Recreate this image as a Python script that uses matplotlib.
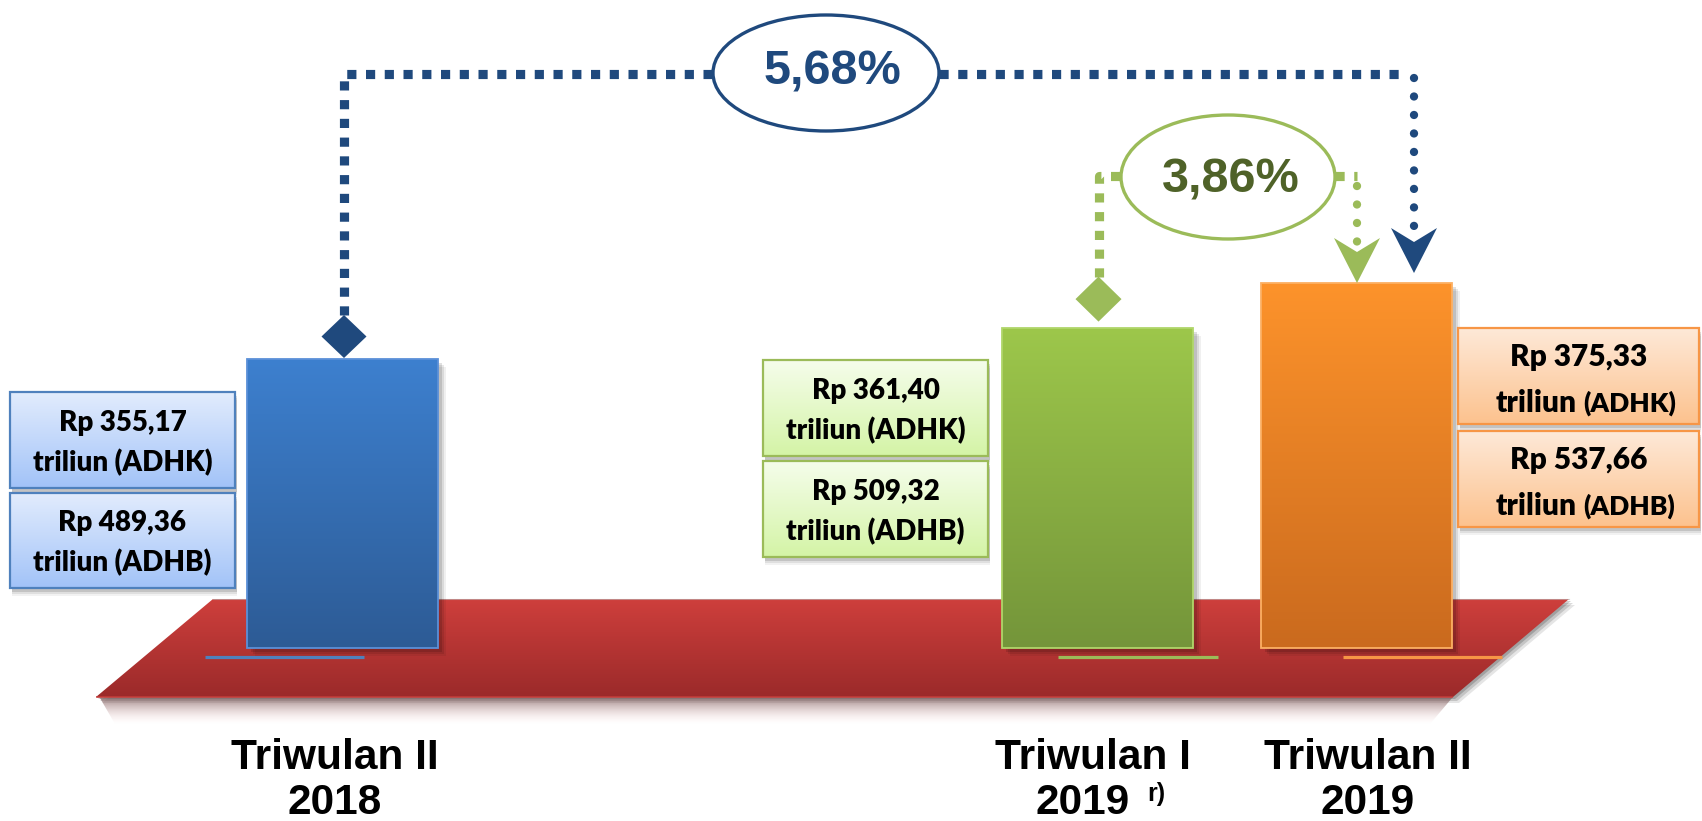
import numpy as np
import matplotlib
matplotlib.use("Agg")
import matplotlib.pyplot as plt
from matplotlib.patches import Polygon, Rectangle, Ellipse
from matplotlib.colors import to_rgba

# ---------------- data ----------------
cat_line1 = ["Triwulan II", "Triwulan I", "Triwulan II"]
cat_line2 = ["2018", "2019", "2019"]
cat_note = ["", "r)", ""]
adhk = [355.17, 361.40, 375.33]          # Rp triliun, constant prices
adhb = [489.36, 509.32, 537.66]          # Rp triliun, current prices (bar height)
growth_yoy = "5,68%"
growth_qtq = "3,86%"

# ---------------- layout / style ----------------
W, H = 1702, 821
BASE = 305.7            # value at the bar foot
SCALE = 1.5735          # px per unit
FOOT = 648              # pixel row of bar foot
bar_x = [342, 1097.5, 1356.5]
bar_w = 191
bar_top_c = ["#3d80cf", "#9dc74b", "#fd932b"]
bar_bot_c = ["#2d5b95", "#74953a", "#ca6a1e"]
bar_edge = ["#5b90d8", "#b0d66a", "#fcb063"]
line_c = ["#4f81bd", "#9bbb59", "#f79646"]
box_top_c = ["#e2ecfd", "#f5fdeb", "#fee9d8"]
box_bot_c = ["#a2c3f8", "#d4f4a6", "#fcc28e"]
box_edge = ["#4f81bd", "#9bbb59", "#f79646"]
box_x = [(10, 235), (763, 988), (1458, 1699)]
box_y = [((392, 488), (493, 588)), ((360, 456), (461, 557)), ((328, 424), (431, 527))]
BLUE = "#1f497d"
GREEN = "#9bbb59"
DKGREEN = "#4f6228"

LABEL_FONT = ["Liberation Sans", "DejaVu Sans"]
BOX_FONT = ["Lato", "DejaVu Sans"]
BOX_WEIGHT = "heavy"

plt.rcParams["lines.scale_dashes"] = False

fig = plt.figure(figsize=(W / 100, H / 100), dpi=100)
fig.patch.set_facecolor("white")


def pix_axes(z):
    a = fig.add_axes([0, 0, 1, 1], zorder=z)
    a.set_xlim(0, W)
    a.set_ylim(H, 0)
    a.axis("off")
    a.patch.set_alpha(0)
    a.set_autoscale_on(False)
    return a


bg = pix_axes(0)
axb = fig.add_axes([0, 0, 1, 1], zorder=1)
axb.set_xlim(0, W)
axb.set_ylim(BASE - (H - FOOT) / SCALE, BASE + FOOT / SCALE)
axb.axis("off")
axb.patch.set_alpha(0)
axb.set_autoscale_on(False)
fg = pix_axes(2)


def vgrad(ax, x0, x1, y_bottom, y_top, ctop, cbot, clip, z):
    n = 256
    t = np.linspace(0, 1, n)[:, None, None]
    c0 = np.array(to_rgba(ctop))[None, None, :]
    c1 = np.array(to_rgba(cbot))[None, None, :]
    img = c0 * (1 - t) + c1 * t
    im = ax.imshow(img, extent=(x0, x1, y_bottom, y_top), origin="upper",
                   aspect="auto", interpolation="bilinear", zorder=z)
    if clip is not None:
        im.set_clip_path(clip)
    return im


# ---------------- platform ----------------
plat_pts = [(213, 599), (1569, 599), (1453, 697), (96, 697)]
for d, a in [(6, 0.10), (4, 0.14), (2, 0.18)]:
    bg.add_patch(Polygon([(x + d, y + d) for x, y in plat_pts], closed=True,
                         facecolor="black", alpha=a, edgecolor="none", zorder=1))
plat = Polygon(plat_pts, closed=True, facecolor="none", edgecolor="none", zorder=3)
bg.add_patch(plat)
vgrad(bg, 96, 1569, 697, 599, "#ce3f3c", "#9b2a2a", plat, 2)
bg.plot([213, 1569], [599.5, 599.5], color="#b9b9b9", lw=0.8, alpha=0.6, zorder=3)
bg.plot([97, 1452], [697, 697], color="#c23a38", lw=1.2, zorder=3)
sh = Polygon([(100, 698), (1452, 698), (1430, 724), (115, 724)], closed=True,
             facecolor="none", edgecolor="none")
bg.add_patch(sh)
vgrad(bg, 96, 1460, 724, 698, (0.50, 0.38, 0.38, 0.75), (1.0, 0.85, 0.85, 0.0), sh, 1)

under_x = [(205, 364), (1058, 1218), (1343, 1502)]
for (a, b), c in zip(under_x, line_c):
    bg.plot([a, b], [657, 657], color=c, lw=2.3, solid_capstyle="butt", zorder=4)

# ---------------- bars ----------------
heights = [v - BASE for v in adhb]
for d, a in [(8, 0.06), (6, 0.09), (4, 0.12)]:
    axb.bar([x + d for x in bar_x], heights, bottom=BASE - d / SCALE, width=bar_w,
            color="black", alpha=a, edgecolor="none", zorder=1)
bars = axb.bar(bar_x, heights, bottom=BASE, width=bar_w, color="none",
               edgecolor=bar_edge, linewidth=1.3, zorder=4)
for rect, v, ct, cb in zip(bars, adhb, bar_top_c, bar_bot_c):
    x0 = rect.get_x()
    vgrad(axb, x0, x0 + bar_w, BASE, v, ct, cb, rect, 3)


def top_px(i):
    return H - axb.transData.transform((bar_x[i], adhb[i]))[1]


tops = [top_px(i) for i in range(3)]


# ---------------- value boxes ----------------
def fmt(v):
    return "Rp " + f"{v:.2f}".replace(".", ",")


def btext(x, y, s, size, ha="center"):
    fg.text(x, y, s, ha=ha, va="baseline", fontsize=size, fontweight=BOX_WEIGHT,
            family=BOX_FONT, color="black", zorder=5)


for i in range(3):
    x0, x1 = box_x[i]
    for j, (y0, y1) in enumerate(box_y[i]):
        for d, a in [(8, 0.05), (6, 0.08), (4, 0.12)]:
            fg.add_patch(Rectangle((x0 + 2, y0 + d), x1 - x0, y1 - y0, facecolor="black",
                                   alpha=a, edgecolor="none", zorder=1))
        r = Rectangle((x0, y0), x1 - x0, y1 - y0, facecolor="none",
                      edgecolor=box_edge[i], lw=1.6, zorder=4)
        fg.add_patch(r)
        vgrad(fg, x0, x1, y1, y0, box_top_c[i], box_bot_c[i], r, 3)
        cx = (x0 + x1) / 2
        cy = (y0 + y1) / 2
        val = adhk[i] if j == 0 else adhb[i]
        tag = "(ADHK)" if j == 0 else "(ADHB)"
        if i < 2:
            btext(cx, cy - 9, fmt(val), 20)
            btext(cx, cy + 31, "triliun " + tag, 20)
        else:
            btext(cx, cy - 10, fmt(val), 21.5)
            btext(cx - 2, cy + 36, "triliun", 21.5, ha="right")
            btext(cx + 5, cy + 36, tag, 19, ha="left")

# ---------------- connectors ----------------
sq_on, sq_off = 6.6, 6.9          # points
dot_gap = 13.3


def sq_line(xs, ys, c):
    fg.plot(xs, ys, color=c, lw=6.6, linestyle=(0, (sq_on, sq_off)),
            dash_capstyle="butt", solid_joinstyle="miter", zorder=6)


def dot_line(xs, ys, c):
    fg.plot(xs, ys, color=c, lw=6.0, linestyle=(0, (0.01, dot_gap)),
            dash_capstyle="round", zorder=6)


def diamond(cx, cy, hw, hh, c):
    fg.add_patch(Polygon([(cx, cy - hh), (cx + hw, cy), (cx, cy + hh), (cx - hw, cy)],
                         closed=True, facecolor=c, edgecolor="none", zorder=7))


def arrow(cx, tip, c):
    fg.add_patch(Polygon([(cx - 23, tip - 45), (cx, tip - 31), (cx + 23, tip - 45), (cx, tip)],
                         closed=True, facecolor=c, edgecolor="none", zorder=7))


# year-on-year (blue)
bx = bar_x[0] + 2
dtop = tops[0] - 1
diamond(bx, dtop - 21.5, 22.5, 21.5, BLUE)
sq_line([bx, bx, 713], [dtop - 43, 74, 74], BLUE)
sq_line([939, 1402], [74, 74], BLUE)
ax_x = 1414
dot_line([ax_x, ax_x], [78, tops[2] - 46], BLUE)
arrow(ax_x, tops[2] - 10, BLUE)
fg.add_patch(Ellipse((826, 73), 226, 116, facecolor="white", edgecolor=BLUE, lw=2.4, zorder=8))
fg.text(832, 85, growth_yoy, ha="center", va="baseline", fontsize=35, fontweight="bold",
        family=LABEL_FONT, color=BLUE, zorder=9)

# quarter-on-quarter (green)
gx = bar_x[1] + 1
gtop = tops[1] - 6
diamond(gx, gtop - 22.5, 23, 22.5, GREEN)
sq_line([gx, gx, 1121], [gtop - 45, 176, 176], GREEN)
sq_line([1335, 1357], [176, 176], GREEN)
dot_line([1357, 1357], [186, tops[2] - 38], GREEN)
arrow(1357, tops[2], GREEN)
fg.add_patch(Ellipse((1228, 177), 214, 124, facecolor="white", edgecolor=GREEN, lw=2.4, zorder=8))
fg.text(1231, 193, growth_qtq, ha="center", va="baseline", fontsize=35, fontweight="bold",
        family=LABEL_FONT, color=DKGREEN, zorder=9)

# ---------------- category labels ----------------
lab1_x = [335, 1093, 1368]
lab2_x = [335, 1083, 1368]
for i in range(3):
    fg.text(lab1_x[i], 769, cat_line1[i], ha="center", va="baseline", fontsize=30.5,
            fontweight="bold", family=LABEL_FONT, color="black", zorder=9)
    fg.text(lab2_x[i], 814, cat_line2[i], ha="center", va="baseline", fontsize=30.5,
            fontweight="bold", family=LABEL_FONT, color="black", zorder=9)
    if cat_note[i]:
        fg.text(1147, 801, cat_note[i], ha="left", va="baseline", fontsize=18,
                fontweight="bold", family=LABEL_FONT, color="black", zorder=9)

fig.savefig("out.png", dpi=100, facecolor="white")
